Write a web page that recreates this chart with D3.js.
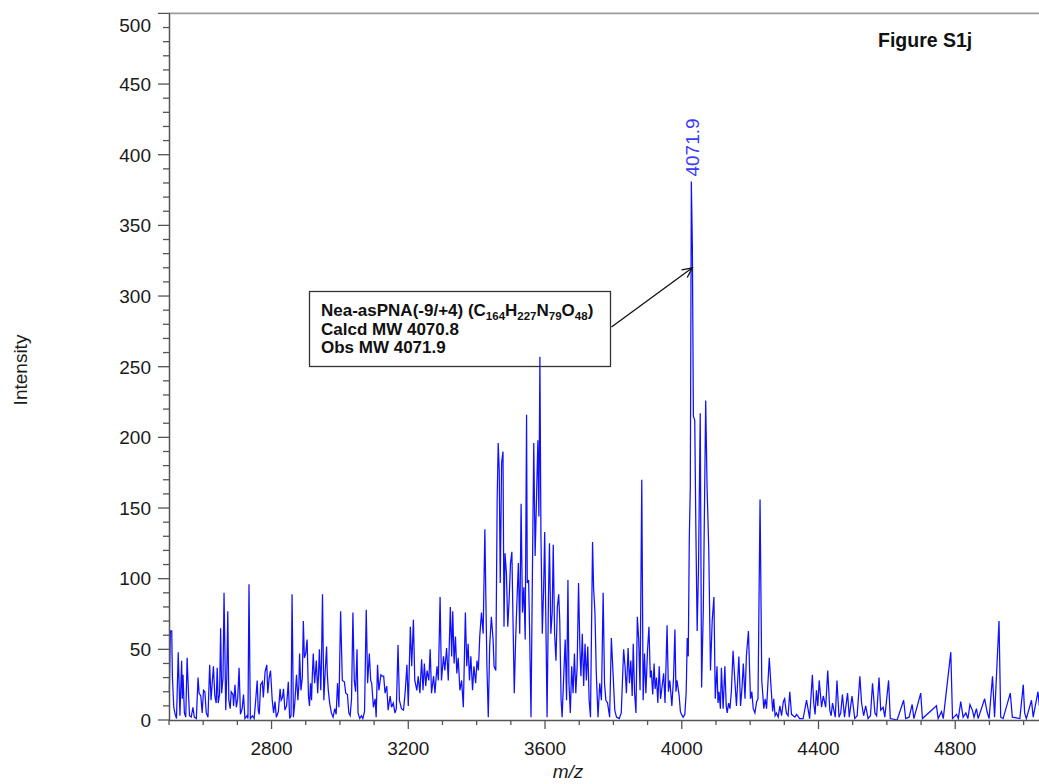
<!DOCTYPE html>
<html><head><meta charset="utf-8">
<script src="https://cdn.jsdelivr.net/npm/d3@7"></script>
<style>body{margin:0;background:#fff}svg{display:block}</style>
</head><body>
<svg id="chart" width="1039" height="784"></svg>
<script>
// Spectrum vertices [m/z, intensity], in four regions
const spectrumLow = [[2501,20],[2504,63],[2508,63],[2510,30],[2514,9],[2518,4],[2522,1],[2527,48],[2532,3],[2537,42],[2539,15],[2541,32],[2545,5],[2549,2],[2553,44],[2557,19],[2560,3],[2565,2],[2570,9],[2574,2],[2580,1],[2585,30],[2588,19],[2593,17],[2597,5],[2601,21],[2605,20],[2609,5],[2614,2],[2619,39],[2623,14],[2626,25],[2630,38],[2634,17],[2638,12],[2641,37],[2644,12],[2648,18],[2651,65],[2654,19],[2658,30],[2661,90],[2666,7],[2669,30],[2672,77],[2675,14],[2679,8],[2682,20],[2687,18],[2689,10],[2693,25],[2697,9],[2701,15],[2705,37],[2709,4],[2714,8],[2718,18],[2722,1],[2728,3],[2731,1],[2734,96],[2738,1],[2744,3],[2749,1],[2753,12],[2758,28],[2761,7],[2764,4],[2768,25],[2773,27],[2776,16],[2781,34],[2786,39],[2789,19],[2793,30],[2797,35],[2802,14],[2806,5],[2810,13],[2814,2],[2820,6],[2825,22],[2828,14],[2832,16],[2835,22],[2839,7],[2844,10],[2849,27],[2853,1],[2857,3],[2860,89],[2864,2],[2868,12],[2873,32],[2877,14],[2880,25],[2882,47],[2886,21],[2890,30],[2893,70],[2896,44],[2900,47],[2904,57],[2908,17],[2911,10],[2914,26],[2917,14],[2919,30],[2922,47],[2926,26],[2931,42],[2935,19],[2937,30],[2940,50],[2944,21],[2946,40],[2949,89],[2953,14],[2957,35],[2961,52],[2963,33],[2966,21],[2970,12],[2975,5],[2980,2],
[2985,8],[2989,4],[2993,26],[2997,9],[3002,77],[3007,28],[3013,27],[3017,19],[3022,18],[3026,5],[3030,3],[3034,15],[3038,76],[3042,28],[3046,20],[3050,50],[3053,5],[3058,1],[3063,3],[3067,1],[3072,6],[3077,78],[3081,26],[3086,47],[3090,28],[3093,26],[3098,9],[3103,15],[3106,2],[3110,39],[3114,21],[3120,32],[3124,31],[3128,31],[3132,19],[3137,24],[3141,7],[3147,17],[3151,9],[3156,12],[3161,5],[3165,8],[3170,53],[3174,14],[3180,8],[3186,7],[3191,20],[3196,39],[3200,10]];
const spectrumMid = [[3206,66],[3210,38],[3215,71],[3219,28],[3225,21],[3229,31],[3234,19],[3239,43],[3243,21],[3247,40],[3251,24],[3255,35],[3260,28],[3264,50],[3268,19],[3274,31],[3278,19],[3284,38],[3288,28],[3293,87],[3297,28],[3303,45],[3307,35],[3312,51],[3317,28],[3323,80],[3327,45],[3330,77],[3334,40],[3338,59],[3342,33],[3346,44],[3351,21],[3356,28],[3361,9],[3367,76],[3371,38],[3375,54],[3379,28],[3383,45],[3388,21],[3392,38],[3397,26],[3401,42],[3405,35],[3409,59],
[3414,76],[3419,61],[3424,135],[3427,85],[3430,38],[3434,2],[3438,52],[3443,73],[3448,57],[3451,38],[3456,35],[3460,156],[3463,196],[3466,177],[3469,97],[3473,182],[3477,190],[3480,66],[3483,118],[3487,104],[3491,66],[3495,85],[3499,111],[3503,119],[3507,61],[3510,19],[3514,57],[3518,85],[3522,111],[3526,61],[3530,153],[3534,76],[3538,94],[3542,57],[3546,216],[3548,97],[3552,99],[3555,61],[3559,2],[3562,78],[3567,196],[3571,116],[3575,156],[3579,198],[3582,144],[3585,257],[3588,132],[3592,61],[3596,94],[3599,133],[3602,78],[3606,2],[3610,87],[3613,125],[3617,61],[3621,76],[3624,124],[3628,61],[3632,42],[3636,80],[3640,89],[3643,71],[3647,14],[3650,2],[3655,33],[3659,57],[3663,14],[3667,99],[3670,26],[3674,5],[3678,38],[3682,19],[3686,47],[3690,19],[3694,38],[3698,97],[3702,50],[3705,31],[3709,61],[3713,24],[3717,54],[3721,28],[3725,52],[3729,14],[3733,2]];
const spectrumMain = [[3739,126],[3742,94],[3746,76],[3750,33],[3755,2],[3760,26],[3765,14],[3770,90],[3774,26],[3778,14],[3783,12],[3789,2],[3794,58],[3799,33],[3804,7],[3809,2],[3817,1],[3823,5],[3830,50],[3834,38],[3838,19],[3843,51],[3847,26],[3851,42],[3855,17],[3858,54],[3862,19],[3866,5],[3870,73],[3874,57],[3878,21],[3883,170],[3887,14],[3891,47],[3895,19],[3900,50],[3904,66],[3908,30],[3911,35],[3915,18],[3919,40],[3922,22],[3926,30],[3930,12],[3934,38],[3938,15],[3942,23],[3947,33],[3951,12],[3957,67],[3961,20],[3965,28],[3971,10],[3976,30],[3980,64],[3983,20],[3986,28],[3992,18],[3996,6],[3999,4],[4004,2],[4009,4],[4013,20],[4016,58],[4019,45],[4022,128],[4025,165],[4028,381],[4031,335],[4034,215],[4038,212],[4041,140],[4045,63],[4049,108],[4054,217],[4058,23],[4063,78],[4070,226],[4074,165],[4079,120],[4084,35],[4089,70],[4094,87],[4098,15],[4103,38],[4106,12],[4109,20],[4113,8],[4116,37],[4121,8],[4126,38],[4130,10],[4133,5],[4137,12],[4141,8],[4145,20],[4150,49],[4156,25],[4160,10],[4164,30],[4167,45],[4172,10],[4176,22],[4180,40],[4185,15],[4189,45],[4195,63],[4201,15],[4205,20],[4209,8],[4214,5],[4219,13],[4223,15],[4229,156],[4234,28],[4240,8],[4244,15],[4248,8],[4256,44],[4262,20],[4266,6],[4269,15],[4273,3],[4277,5],[4282,2],[4287,10],[4292,3],[4297,13],[4301,15],[4306,5],[4311,3],[4316,20],[4321,4]];
const spectrumHigh = [[4331,2],[4336,4],[4345,1],[4355,1],[4365,14],[4370,7],[4374,1],[4382,32],[4386,12],[4390,4],[4394,21],[4398,10],[4402,28],[4409,9],[4414,17],[4421,9],[4427,35],[4433,7],[4437,3],[4441,12],[4449,2],[4454,28],[4460,2],[4465,5],[4470,18],[4476,2],[4485,19],[4490,2],[4498,17],[4506,1],[4513,3],[4521,31],[4526,12],[4532,3],[4538,10],[4545,1],[4552,3],[4558,26],[4565,5],[4570,3],[4577,30],[4582,7],[4589,9],[4594,2],[4605,28],[4610,1],[4630,0],[4649,14],[4655,1],[4665,2],[4674,11],[4679,1],[4699,19],[4704,1],[4745,10],[4750,1],[4760,6],[4765,1],[4787,48],[4792,1],[4804,4],[4809,1],[4816,13],[4823,2],[4831,5],[4837,1],[4843,11],[4850,7],[4855,2],[4862,8],[4867,1],[4886,15],[4893,6],[4899,1],[4909,31],[4915,2],[4928,70],[4933,2],[4940,1],[4961,19],[4967,2],[4989,1],[4999,25],[5003,5],[5008,1],[5023,14],[5028,2],[5042,20],[5046,10]];

const yTickValues = [0,50,100,150,200,250,300,350,400,450,500];
const xTickLabels = [2800,3200,3600,4000,4400,4800];
const peakLabelPos = [4028, 381];
const peakLabelText = "4071.9";
const arrowTip = [4031, 320];
const annotationLines = ["Calcd MW 4070.8","Obs MW 4071.9"];

const svg = d3.select("#chart");
const font = "'Liberation Sans', Arial, Helvetica, sans-serif";
const x = d3.scaleLinear().domain([2500,5045]).range([169,1039]);
const y = d3.scaleLinear().domain([0,500]).range([720,13.4]);

const spectrum = [...spectrumLow, ...spectrumMid, ...spectrumMain, ...spectrumHigh];

// top frame line
svg.append("line").attr("x1",169).attr("x2",1039).attr("y1",y(500)).attr("y2",y(500))
  .attr("stroke","#9a9a9a").attr("stroke-width",1.6);

// spectrum
svg.append("path").datum(spectrum)
  .attr("d", d3.line().x(d=>x(d[0])).y(d=>y(d[1])))
  .attr("fill","none").attr("stroke","#1010ff").attr("stroke-width",1.25)
  .attr("stroke-linejoin","miter");

// y axis
const yAxisG = svg.append("g");
yAxisG.append("line").attr("x1",169.5).attr("x2",169.5).attr("y1",y(500)).attr("y2",720.5)
  .attr("stroke","#555").attr("stroke-width",1.5);
d3.range(0,501,10).forEach(v=>{
  const major = v%50===0;
  yAxisG.append("line").attr("x1",169-(major?11:6)).attr("x2",169.5)
    .attr("y1",y(v)).attr("y2",y(v)).attr("stroke","#555").attr("stroke-width",1.3);
});
yAxisG.selectAll("text").data(yTickValues).join("text")
  .attr("x",151).attr("y",d=>Math.max(y(d),25)+6.8)
  .attr("text-anchor","end").attr("font-family",font).attr("font-size",19).attr("fill","#1a1a1a")
  .text(d=>d);

// x axis
const xAxisG = svg.append("g");
xAxisG.append("line").attr("x1",169).attr("x2",1039).attr("y1",720.5).attr("y2",720.5)
  .attr("stroke","#555").attr("stroke-width",1.5);
d3.range(2500,5001,100).forEach(v=>{
  const major = v%400===0;
  xAxisG.append("line").attr("x1",x(v)).attr("x2",x(v)).attr("y1",720).attr("y2",720+(major?9:5))
    .attr("stroke","#555").attr("stroke-width",1.3);
});
xAxisG.selectAll("text").data(xTickLabels).join("text")
  .attr("x",d=>x(d)).attr("y",755)
  .attr("text-anchor","middle").attr("font-family",font).attr("font-size",19).attr("fill","#1a1a1a")
  .text(d=>d);

// axis titles
svg.append("text").attr("x",568).attr("y",778).attr("text-anchor","middle")
  .attr("font-family",font).attr("font-size",19).attr("font-style","italic").attr("fill","#1a1a1a").text("m/z");
svg.append("text").attr("transform","translate(27,370) rotate(-90)").attr("text-anchor","middle")
  .attr("font-family",font).attr("font-size",19).attr("fill","#1a1a1a").text("Intensity");

// figure label
svg.append("text").attr("x",878).attr("y",47).attr("font-family",font).attr("font-size",19.5)
  .attr("font-weight","bold").attr("fill","#111").text("Figure S1j");

// peak label
svg.append("text")
  .attr("transform",`translate(${x(peakLabelPos[0])+8},${y(peakLabelPos[1])-5}) rotate(-90)`)
  .attr("font-family",font).attr("font-size",19).attr("fill","#3a3aff").text(peakLabelText);

// annotation box
const bx=309.5, by=291.5, bw=301, bh=75;
svg.append("rect").attr("x",bx).attr("y",by).attr("width",bw).attr("height",bh)
  .attr("fill","none").attr("stroke","#333").attr("stroke-width",1.3);
const fs = 17;
const t1 = svg.append("text").attr("x",321).attr("y",316).attr("font-family",font)
  .attr("font-size",fs).attr("font-weight","bold").attr("fill","#111");
const formulaParts = [["Nea-asPNA(-9/+4) (C",false],["164",true],["H",false],["227",true],["N",false],["79",true],["O",false],["48",true],[")",false]];
formulaParts.forEach(([s,sub])=>{
  t1.append("tspan").attr("font-size",sub?11.5:fs).attr("baseline-shift",sub?"-4":"0").text(s);
});
annotationLines.forEach((s,i)=>{
  svg.append("text").attr("x",321).attr("y",334.5+i*18.7).attr("font-family",font)
    .attr("font-size",fs).attr("font-weight","bold").attr("fill","#111").text(s);
});

// arrow
const sx = bx+bw+1, sy = 327;
const tx = x(arrowTip[0]), ty = y(arrowTip[1]);
svg.append("line").attr("x1",sx).attr("y1",sy).attr("x2",tx).attr("y2",ty)
  .attr("stroke","#111").attr("stroke-width",1.3);
const ang = Math.atan2(ty-sy, tx-sx), L=11, spread=0.45;
const p1=[tx-L*Math.cos(ang-spread), ty-L*Math.sin(ang-spread)];
const p2=[tx-L*Math.cos(ang+spread), ty-L*Math.sin(ang+spread)];
svg.append("path").attr("d",`M${p1[0]},${p1[1]}L${tx},${ty}L${p2[0]},${p2[1]}`)
  .attr("fill","none").attr("stroke","#111").attr("stroke-width",1.3);
</script>
</body></html>
